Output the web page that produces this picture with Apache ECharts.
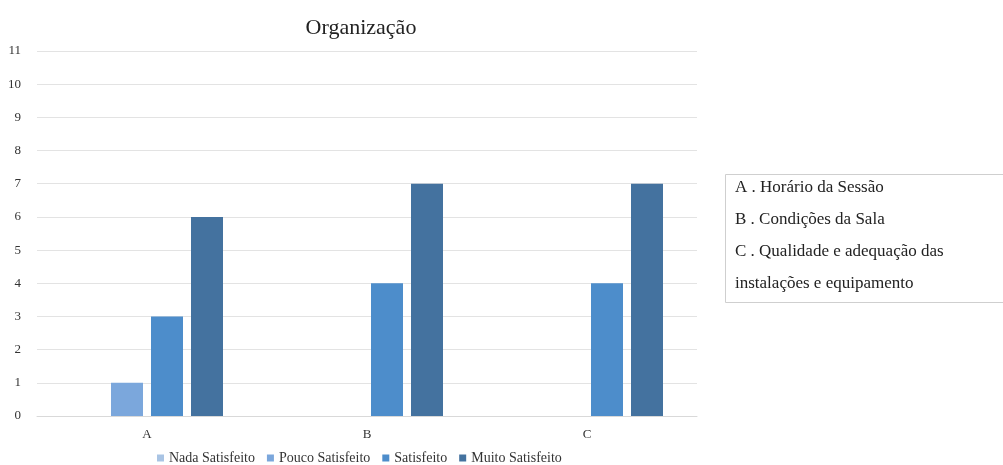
<!DOCTYPE html>
<html>
<head>
<meta charset="utf-8">
<script src="https://cdn.jsdelivr.net/npm/echarts@6/dist/echarts.min.js"></script>
<style>
  html, body { margin: 0; padding: 0; background: #fff; }
  #chart { width: 1003px; height: 465px; }
</style>
</head>
<body>
<div id="chart"></div>
<script>
// Categories and satisfaction counts per rating level
const categories = ['A', 'B', 'C'];
const seriesNames = ['Nada Satisfeito', 'Pouco Satisfeito', 'Satisfeito', 'Muito Satisfeito'];
const nadaSatisfeito = [0, 0, 0];
const poucoSatisfeito = [1, 0, 0];
const satisfeito = [3, 4, 4];
const muitoSatisfeito = [6, 7, 7];
const yTicks = { min: 0, max: 11, interval: 1 };
const noteLines = [
  'A . Horário da Sessão',
  'B . Condições da Sala',
  'C . Qualidade e adequação das',
  'instalações e equipamento'
];

const colors = ['#a9c4e4', '#7ba7dc', '#4d8dcb', '#44729f'];
const serif = 'Liberation Serif';
const values = [nadaSatisfeito, poucoSatisfeito, satisfeito, muitoSatisfeito];

const chart = echarts.init(document.getElementById('chart'));
chart.setOption({
  animation: false,
  title: {
    text: 'Organização',
    left: 356,
    top: 12,
    textAlign: 'center',
    textStyle: { fontFamily: serif, fontSize: 22, fontWeight: 'normal', color: '#222' }
  },
  grid: { left: 37, right: 306, top: 51, bottom: 49 },
  legend: {
    top: 446,
    left: 152,
    itemWidth: 7,
    itemHeight: 7,
    itemGap: 12,
    icon: 'rect',
    data: seriesNames,
    textStyle: { fontFamily: serif, fontSize: 14, color: '#333' }
  },
  xAxis: {
    type: 'category',
    data: categories,
    axisLine: { lineStyle: { color: '#d9d9d9' } },
    axisTick: { show: false },
    axisLabel: { fontFamily: serif, fontSize: 13, color: '#333', margin: 12 }
  },
  yAxis: {
    type: 'value',
    min: yTicks.min,
    max: yTicks.max,
    interval: yTicks.interval,
    axisLine: { show: false },
    axisTick: { show: false },
    splitLine: { lineStyle: { color: '#e3e3e3' } },
    axisLabel: { fontFamily: serif, fontSize: 13, color: '#333', margin: 16 }
  },
  series: seriesNames.map((name, i) => ({
    name,
    type: 'bar',
    data: values[i],
    barWidth: 32,
    barGap: '25%',
    itemStyle: { color: colors[i] }
  })),
  graphic: [
    {
      type: 'rect',
      shape: { x: 725.5, y: 174.5, width: 290, height: 128 },
      style: { fill: '#fff', stroke: '#cfcfcf', lineWidth: 1 }
    },
    ...noteLines.map((t, i) => ({
      type: 'text',
      left: 735,
      top: 179 + i * 32,
      style: { text: t, fontFamily: serif, fontSize: 17, fill: '#222' }
    }))
  ]
});
</script>
</body>
</html>
